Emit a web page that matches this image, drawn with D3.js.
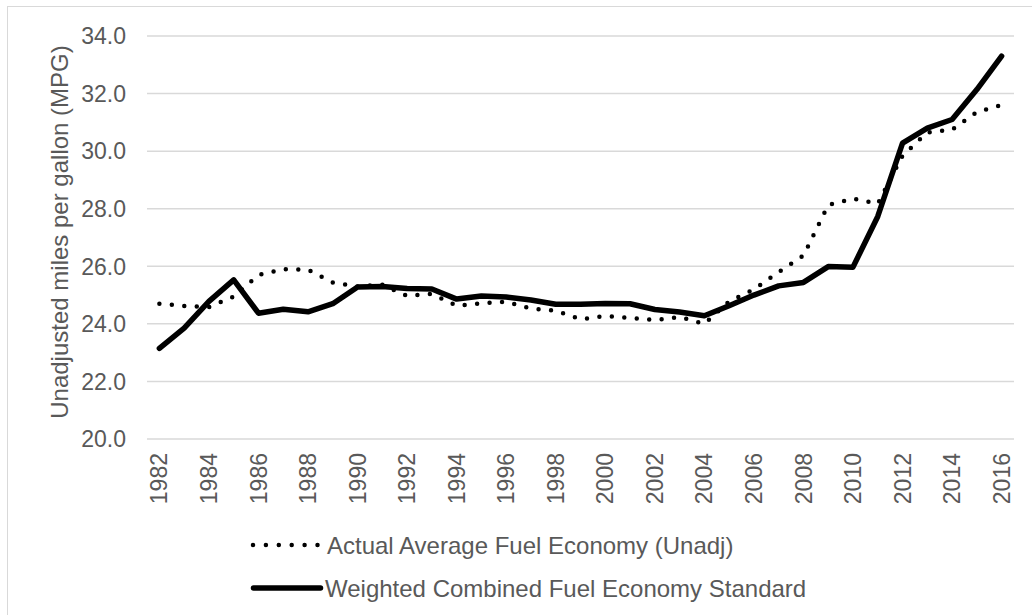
<!DOCTYPE html>
<html>
<head>
<meta charset="utf-8">
<script src="https://cdn.jsdelivr.net/npm/d3@7"></script>
<style>
  body { margin: 0; background: #fff; }
  svg { display: block; }
</style>
</head>
<body>
<script>
var TEXT_GREY = '#595959'
var GRID_GREY = '#d9d9d9'
var FONT = '"Liberation Sans", Arial, sans-serif'

// years on the category axis
var years = d3.range(1982, 2017)

// Actual Average Fuel Economy (Unadj) -- dotted
var actual = [24.7, 24.62, 24.58, 24.95, 25.7, 25.9, 25.88, 25.44, 25.3, 25.36,
  24.97, 25.04, 24.63, 24.71, 24.77, 24.53, 24.46, 24.16, 24.27, 24.21,
  24.13, 24.24, 24.0, 24.78, 25.2, 25.8, 26.37, 28.13, 28.35, 28.17,
  29.84, 30.65, 30.75, 31.36, 31.6]

// Weighted Combined Fuel Economy Standard -- solid
var standard = [23.15, 23.85, 24.78, 25.53, 24.37, 24.51, 24.42, 24.7, 25.28, 25.3,
  25.23, 25.21, 24.86, 24.97, 24.93, 24.83, 24.68, 24.68, 24.71, 24.7,
  24.5, 24.41, 24.28, 24.63, 25.0, 25.32, 25.44, 25.99, 25.97, 27.73,
  30.28, 30.8, 31.1, 32.14, 33.3]

var yTicks = [20, 22, 24, 26, 28, 30, 32, 34]
var xTickYears = years.filter(function(y){ return (y - 1982) % 2 === 0 })

var seriesNames = ['Actual Average Fuel Economy (Unadj)', 'Weighted Combined Fuel Economy Standard']

var w = 1032, h = 615
var svg = d3.select('body').append('svg').attr('width', w).attr('height', h)

// chart frame (only left and top edges fall inside the picture)
svg.append('rect')
  .attr('x', 7.5).attr('y', 6.5)
  .attr('width', 1040).attr('height', 620)
  .attr('fill', '#fff')
  .attr('stroke', GRID_GREY)
  .attr('stroke-width', 1)

var x = d3.scalePoint().domain(years).range([147, 1014]).padding(0.5)
var y = d3.scaleLinear().domain([20, 34]).range([439, 36])

// gridlines
svg.append('g').selectAll('line')
  .data(yTicks)
  .enter().append('line')
  .attr('x1', 147).attr('x2', 1014)
  .attr('y1', function(d){ return y(d) })
  .attr('y2', function(d){ return y(d) })
  .attr('stroke', GRID_GREY)
  .attr('stroke-width', 1.5)

// y tick labels
svg.append('g').selectAll('text')
  .data(yTicks)
  .enter().append('text')
  .attr('x', 126)
  .attr('y', function(d){ return y(d) })
  .attr('dy', '0.36em')
  .attr('text-anchor', 'end')
  .attr('fill', TEXT_GREY)
  .attr('font-family', FONT)
  .attr('font-size', '23px')
  .text(function(d){ return d.toFixed(1) })

// x tick labels, rotated
svg.append('g').selectAll('text')
  .data(xTickYears)
  .enter().append('text')
  .attr('transform', function(d){ return 'translate(' + x(d) + ',453) rotate(-90)' })
  .attr('dy', '0.35em')
  .attr('text-anchor', 'end')
  .attr('fill', TEXT_GREY)
  .attr('font-family', FONT)
  .attr('font-size', '23px')
  .text(function(d){ return d })

// y axis title
svg.append('text')
  .attr('transform', 'translate(68,232) rotate(-90)')
  .attr('text-anchor', 'middle')
  .attr('fill', TEXT_GREY)
  .attr('font-family', FONT)
  .attr('font-size', '24px')
  .text('Unadjusted miles per gallon (MPG)')

var line = d3.line()
  .x(function(d, i){ return x(years[i]) })
  .y(function(d){ return y(d) })

svg.append('path')
  .datum(actual)
  .attr('d', line)
  .attr('fill', 'none')
  .attr('stroke', '#000')
  .attr('stroke-width', 4.5)
  .attr('stroke-linecap', 'round')
  .attr('stroke-dasharray', '0 12.5')

svg.append('path')
  .datum(standard)
  .attr('d', line)
  .attr('fill', 'none')
  .attr('stroke', '#000')
  .attr('stroke-width', 5.5)
  .attr('stroke-linejoin', 'round')
  .attr('stroke-linecap', 'round')

// legend
var legend = svg.append('g')
legend.append('line')
  .attr('x1', 253).attr('x2', 318).attr('y1', 545).attr('y2', 545)
  .attr('stroke', '#000').attr('stroke-width', 4.5)
  .attr('stroke-linecap', 'round').attr('stroke-dasharray', '0 12.9')
legend.append('line')
  .attr('x1', 253.5).attr('x2', 320.5).attr('y1', 588).attr('y2', 588)
  .attr('stroke', '#000').attr('stroke-width', 5.5)
  .attr('stroke-linecap', 'round')

legend.selectAll('text')
  .data(seriesNames)
  .enter().append('text')
  .attr('x', function(d, i){ return i === 0 ? 327 : 325 })
  .attr('y', function(d, i){ return i === 0 ? 545 : 588 })
  .attr('dy', '0.36em')
  .attr('fill', TEXT_GREY)
  .attr('font-family', FONT)
  .attr('font-size', '24px')
  .text(function(d){ return d })
</script>
</body>
</html>
